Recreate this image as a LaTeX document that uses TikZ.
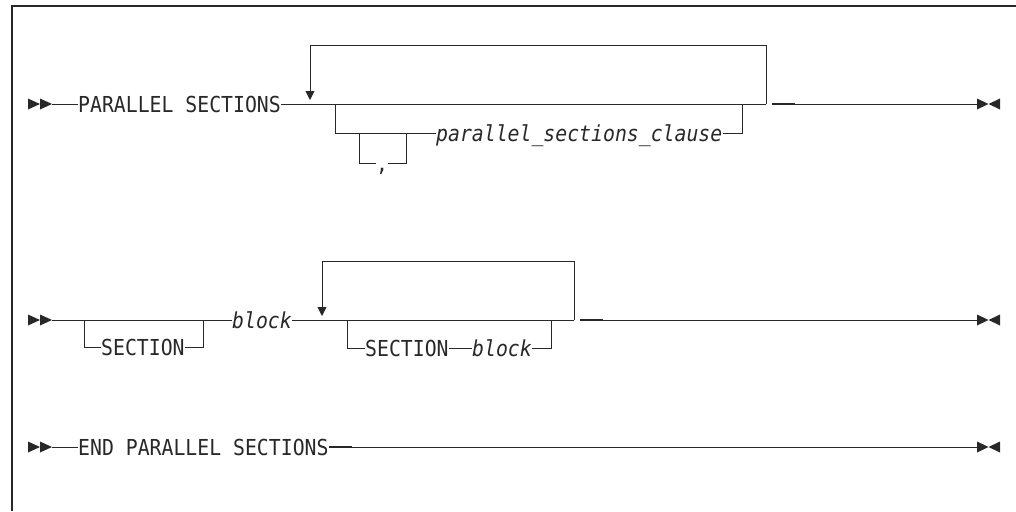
\documentclass[tikz,border=0pt]{standalone}
\usepackage{fontspec}
\newfontfamily\diagfont[FakeStretch=0.9]{DejaVu Sans Mono}
\usetikzlibrary{arrows.meta}
\definecolor{railgray}{RGB}{40,40,40}

\tikzset{
  rail/.style={draw=railgray, line width=0.9pt},
  kw/.style={font=\diagfont\fontsize{22}{22}\selectfont, text=railgray,
    inner sep=0pt, text height=16pt, text depth=0pt, anchor=west},
  var/.style={kw, font=\diagfont\itshape\fontsize{22}{22}\selectfont},
  backloop/.style={rail, -{Triangle[width=9pt,length=9pt]}},
  emdash/.style={draw=railgray, line width=1.6pt},
  begmark/.pic={\fill[railgray] (-24,-5.5) -- (-12,0) -- (-24,5.5) -- cycle
    (-12,-5.5) -- (0,0) -- (-12,5.5) -- cycle;},
  finmark/.pic={\fill[railgray] (0,-5.5) -- (11.5,0) -- (0,5.5) -- cycle
    (23,-5.5) -- (11.5,0) -- (23,5.5) -- cycle;}
}

\begin{document}
\begin{tikzpicture}[x=1pt,y=-1pt]
  \useasboundingbox (0,0) rectangle (1016,511);
  % frame
  \draw[railgray, line width=1.4pt] (1016,6) -- (12,6) -- (12,511);

  % PARALLEL SECTIONS line
  \coordinate (s1) at (52,104);
  \pic at (s1) {begmark};
  \node[kw] (ps) at (78,104) {PARALLEL SECTIONS};
  \coordinate (r1) at (766,104);
  \coordinate (d1a) at (772,104);
  \coordinate (d1b) at (795,104);
  \coordinate (e1) at (977,104);
  \pic at (e1) {finmark};
  \draw[rail] (s1) -- (ps.west);
  \draw[rail] (ps.east) -- (r1);
  \draw[backloop] (r1) -- (766,45) -- (310,45) -- (310,100);
  \draw[emdash] (d1a) -- (d1b);
  \draw[rail] (d1b) -- (e1);
  % optional clause with comma
  \coordinate (j1) at (335,104);
  \coordinate (j2) at (359,133);
  \coordinate (j3) at (406,133);
  \coordinate (j4) at (742,104);
  \node[var] (psc) at (436,133) {parallel\_sections\_clause};
  \node[kw] (cm) at (376,163) {,};
  \draw[rail] (j1) |- (psc.west);
  \draw[rail] (j2) |- (cm.west);
  \draw[rail] (cm.east) -| (j3);
  \draw[rail] (psc.east) -| (j4);

  % SECTION block line
  \coordinate (s2) at (52,320);
  \pic at (s2) {begmark};
  \node[kw] (sec1) at (101,347) {SECTION};
  \node[var] (blk1) at (232,320) {block};
  \coordinate (r2) at (574,320);
  \coordinate (d2a) at (580,320);
  \coordinate (d2b) at (603,320);
  \coordinate (e2) at (977,320);
  \pic at (e2) {finmark};
  \draw[rail] (s2) -- (blk1.west);
  \draw[rail] (blk1.east) -- (r2);
  \draw[backloop] (r2) -- (574,261) -- (322,261) -- (322,316);
  \draw[emdash] (d2a) -- (d2b);
  \draw[rail] (d2b) -- (e2);
  % optional first SECTION
  \coordinate (k1) at (84,320);
  \coordinate (k2) at (203,320);
  \draw[rail] (k1) |- (sec1.west);
  \draw[rail] (sec1.east) -| (k2);
  % repeated SECTION block
  \coordinate (k3) at (347,320);
  \coordinate (k4) at (551,320);
  \node[kw] (sec2) at (365,348) {SECTION};
  \node[var] (blk2) at (472,348) {block};
  \draw[rail] (k3) |- (sec2.west);
  \draw[rail] (sec2.east) -- (blk2.west);
  \draw[rail] (blk2.east) -| (k4);

  % END PARALLEL SECTIONS line
  \coordinate (s3) at (52,447);
  \pic at (s3) {begmark};
  \node[kw] (eps) at (78,447) {END PARALLEL SECTIONS};
  \coordinate (d3b) at (352,447);
  \coordinate (e3) at (977,447);
  \pic at (e3) {finmark};
  \draw[rail] (s3) -- (eps.west);
  \draw[emdash] (eps.east) -- (d3b);
  \draw[rail] (d3b) -- (e3);
\end{tikzpicture}
\end{document}
